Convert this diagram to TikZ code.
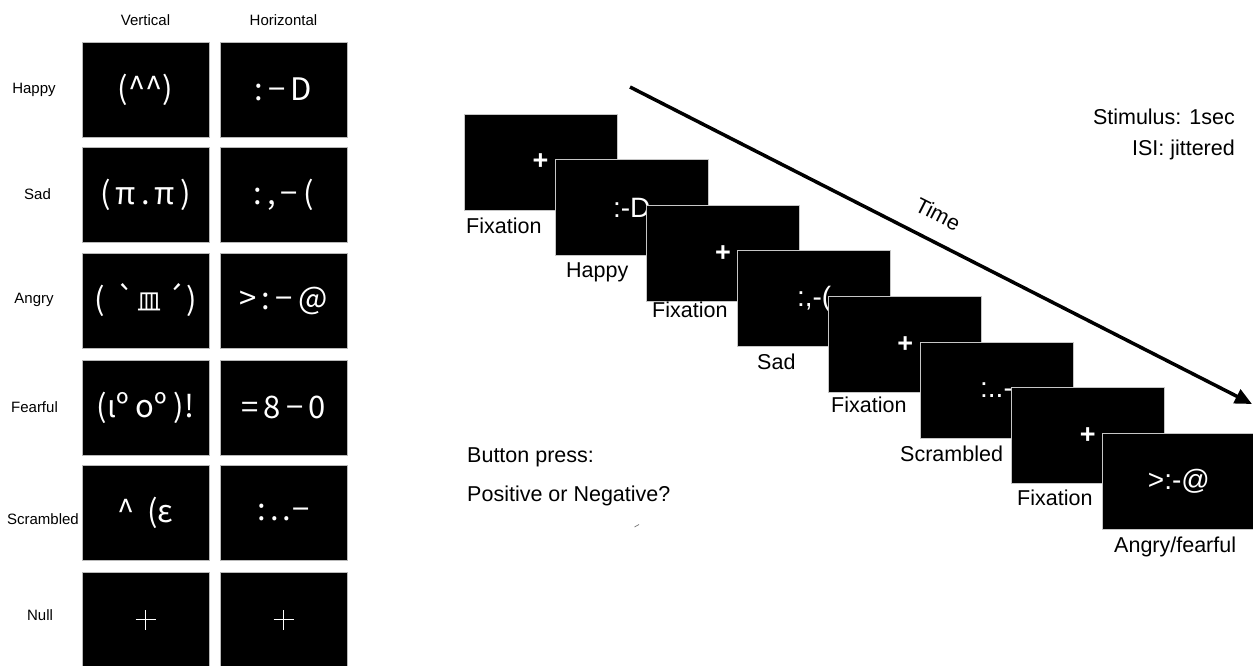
\documentclass[tikz,border=0pt]{standalone}
\usepackage{fontspec}
\usepackage{graphicx}
\setmainfont{Liberation Sans}
\newfontfamily\cjk{Noto Sans CJK JP}
\usetikzlibrary{arrows.meta}
\begin{document}
\begin{tikzpicture}[x=1pt,y=-1pt,
  cell/.style={fill=black,draw=gray!55,line width=0.8pt,minimum width=127pt,minimum height=95pt,inner sep=0pt,text=white,font=\cjk\fontsize{31}{31}\selectfont},
  frame/.style={fill=black,draw=gray!45,line width=1pt,minimum width=153pt,minimum height=96pt,inner sep=0pt,text=white,font=\fontsize{28}{28}\selectfont},
  fix/.style={frame,font=\bfseries\fontsize{27}{27}\selectfont},
  small/.style={font=\fontsize{15}{15}\selectfont,anchor=base,inner sep=0pt},
  big/.style={font=\fontsize{21.5}{21.5}\selectfont,inner sep=0pt},
  nullcross/.style={white,line width=1.1pt},
]
\useasboundingbox[fill=white] (0,0) rectangle (1253,665);

% column headers
\node[small] (hdrv) at (145.5,25) {Vertical};
\node[small] (hdrh) at (283.5,25) {Horizontal};

% row labels
\node[small] (lhappy) at (34,93) {Happy};
\node[small] (lsad) at (37.5,199) {Sad};
\node[small] (langry) at (34,303) {Angry};
\node[small] (lfear) at (34.5,412) {Fearful};
\node[small] (lscr) at (43,524) {Scrambled};
\node[small] (lnull) at (40,620) {Null};

% grid cells
\node[cell] (c1v) at (145.5,89.5) {(\textasciicircum\textasciicircum)};
\node[cell] (c1h) at (283.5,89.5) {:\,−\,D};
\node[cell] (c2v) at (145.5,194.5) {(\,π\hspace{5pt}.\hspace{5pt}π\,)};
\node[cell] (c2h) at (283.5,194.5) {:\,,\,−\,(};
\node[cell] (c3v) at (145.5,300.5) {(\hspace{12pt}\reflectbox{´}\hspace{2pt}{\fontsize{24}{24}\selectfont 皿}\hspace{5pt}´\hspace{1pt})};
\node[cell] (c3h) at (283.5,300.5) {>\,:\,−\,@};
\node[cell] (c4v) at (145.5,407.5) {(ιº oº )!};
\node[cell] (c4h) at (283.5,407.5) {=\,8\,−\,0};
\node[cell] (c5v) at (145.5,512.5) {\textasciicircum\hspace{12pt}(ε};
\node[cell] (c5h) at (283.5,512.5) {:\hspace{4pt}.\hspace{4pt}.\hspace{1pt}−};
\node[cell] (c6v) at (145.5,619.5) {};
\node[cell] (c6h) at (283.5,619.5) {};
\draw[nullcross] ([xshift=-10pt]c6v.center) -- ([xshift=10pt]c6v.center);
\draw[nullcross] ([yshift=-10pt]c6v.center) -- ([yshift=10pt]c6v.center);
\draw[nullcross] ([xshift=-10pt]c6h.center) -- ([xshift=10pt]c6h.center);
\draw[nullcross] ([yshift=-10pt]c6h.center) -- ([yshift=10pt]c6h.center);

% time arrow
\coordinate (ts) at (630,87);
\coordinate (te) at (1252,404);
\draw[line width=3.5pt,-{Triangle[length=17pt,width=15pt]}] (ts) -- (te);
\node[big,rotate=-27] (time) at (938,214) {Time};

% trial sequence frames
\node[fix] (f1) at (540.5,162) {+};
\node[frame] (f2) at (631.7,207.6) {:-D};
\node[fix] (f3) at (722.9,253.2) {+};
\node[frame] (f4) at (814.1,298.8) {:,-(};
\node[fix] (f5) at (905.3,344.4) {+};
\node[frame] (f6) at (996.5,390) {:..-};
\node[fix] (f7) at (1087.7,435.6) {+};
\node[frame] (f8) at (1178.9,481.2) {>:-@};

% frame labels
\node[big,anchor=base west] (l1) at (466,233) {Fixation};
\node[big,anchor=base west] (l2) at (566,277) {Happy};
\node[big,anchor=base west] (l3) at (652,317) {Fixation};
\node[big,anchor=base west] (l4) at (757,369) {Sad};
\node[big,anchor=base west] (l5) at (831,412) {Fixation};
\node[big,anchor=base west] (l6) at (900,461) {Scrambled};
\node[big,anchor=base west] (l7) at (1017,505) {Fixation};
\node[big,anchor=base west] (l8) at (1114,552) {Angry/fearful};

% timing info
\node[big,anchor=base east] (stim) at (1235,124) {Stimulus: 1sec};
\node[big,anchor=base east] (isi) at (1235,155) {ISI: jittered};

% response
\node[big,anchor=base west] (bp) at (467,462) {Button press:};
\node[big,anchor=base west] (pn) at (467,501) {Positive or Negative?};

% stray mark
\coordinate (m1) at (634.5,527);
\coordinate (m2) at (639,524.5);
\draw[gray,line width=0.8pt] (m1) -- (m2);
\end{tikzpicture}
\end{document}
